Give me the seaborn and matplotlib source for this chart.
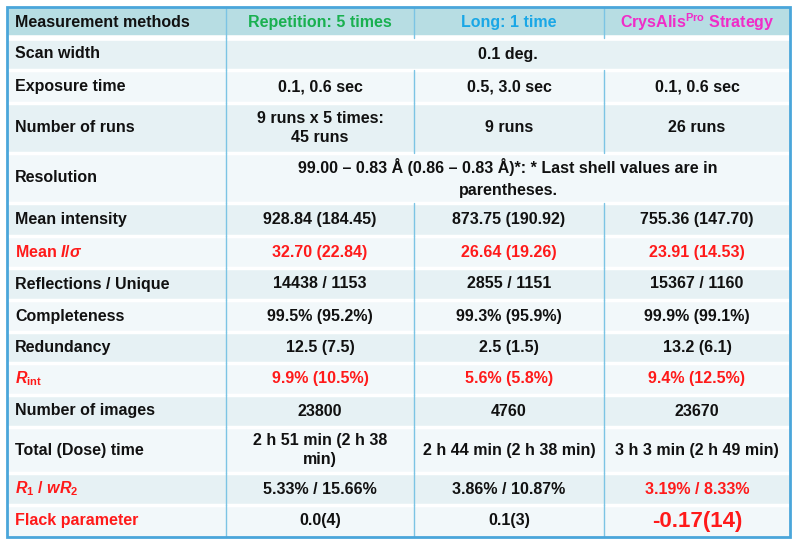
import matplotlib
matplotlib.use("Agg")
import matplotlib.pyplot as plt
import seaborn as sns
from matplotlib.patches import Rectangle

sns.set_theme(style="white")
plt.rcParams['font.family'] = ['Liberation Sans', 'DejaVu Sans']
plt.rcParams['mathtext.fontset'] = 'custom'
plt.rcParams['mathtext.rm'] = 'Liberation Sans:bold'
plt.rcParams['mathtext.it'] = 'Liberation Sans:bold:italic'
plt.rcParams['mathtext.bf'] = 'Liberation Sans:bold'

# table content
headers = ["Measurement methods", "Repetition: 5 times", "Long: 1 time",
           r"CrysAlis$^{\mathrm{Pro}}$ Strategy"]
header_colors = ["#111111", "#19b050", "#1aa7e6", "#f02cc8"]
row_labels = ["Scan width", "Exposure time", "Number of runs", "Resolution",
              "Mean intensity", r"Mean $I/\sigma$", "Reflections / Unique",
              "Completeness", "Redundancy", r"$R_{\mathrm{int}}$", "Number of images",
              "Total (Dose) time", r"$R_1$ / $wR_2$", "Flack parameter"]
repetition = ["0.1 deg.", "0.1, 0.6 sec", "9 runs x 5 times:\n45 runs",
              "99.00 – 0.83 Å (0.86 – 0.83 Å)*: * Last shell values are in\nparentheses.",
              "928.84 (184.45)", "32.70 (22.84)", "14438 / 1153", "99.5% (95.2%)",
              "12.5 (7.5)", "9.9% (10.5%)", "23800", "2 h 51 min (2 h 38\nmin)",
              "5.33% / 15.66%", "0.0(4)"]
long_time = [None, "0.5, 3.0 sec", "9 runs", None, "873.75 (190.92)", "26.64 (19.26)",
             "2855 / 1151", "99.3% (95.9%)", "2.5 (1.5)", "5.6% (5.8%)", "4760",
             "2 h 44 min (2 h 38 min)", "3.86% / 10.87%", "0.1(3)"]
strategy = [None, "0.1, 0.6 sec", "26 runs", None, "755.36 (147.70)", "23.91 (14.53)",
            "15367 / 1160", "99.9% (99.1%)", "13.2 (6.1)", "9.4% (12.5%)", "23670",
            "3 h 3 min (2 h 49 min)", "3.19% / 8.33%", "-0.17(14)"]
red_rows = {5, 9, 12, 13}      # rows with red label
red_value_rows = {5, 9}        # rows whose values are all red
merged_rows = {0, 3}

# layout (pixels)
col_x = [7, 226, 414, 604, 790]
row_y = [7, 38, 70, 103, 153, 203, 236, 268, 300, 332, 363, 395, 427, 473, 505, 537]
RED = "#ff1a1a"

fig = plt.figure(figsize=(8, 5.44), dpi=100)
ax = fig.add_axes([0, 0, 1, 1])
ax.set_xlim(0, 800)
ax.set_ylim(544, 0)
ax.axis("off")

ax.add_patch(Rectangle((col_x[0], row_y[0]), col_x[-1] - col_x[0], row_y[1] - row_y[0],
                       facecolor="#b7dde3", edgecolor="none"))
for i in range(len(row_labels)):
    y0, y1 = row_y[i + 1], row_y[i + 2]
    fc = "#e6f1f4" if i % 2 == 0 else "#f2f8fa"
    ax.add_patch(Rectangle((col_x[0], y0), col_x[-1] - col_x[0], y1 - y0,
                           facecolor=fc, edgecolor="none"))
    ax.plot([col_x[0], col_x[-1]], [y0, y0], color="white", lw=2.5)
ax.plot([col_x[0], col_x[-1]], [row_y[1], row_y[1]], color="white", lw=4)

# vertical separators
for j, x in enumerate(col_x[1:-1], start=1):
    for i in range(-1, len(row_labels)):
        if j > 1 and i in merged_rows:
            continue
        ax.plot([x, x], [row_y[i + 1], row_y[i + 2]], color="#7cc4e4", lw=1)
ax.add_patch(Rectangle((col_x[0], row_y[0]), col_x[-1] - col_x[0], row_y[-1] - row_y[0],
                       facecolor="none", edgecolor="#4aa6da", lw=2, zorder=5))

fs = 11.5
for j, h in enumerate(headers):
    cx = col_x[0] + 8 if j == 0 else (col_x[j] + col_x[j + 1]) / 2
    ax.text(cx, (row_y[0] + row_y[1]) / 2, h, ha="left" if j == 0 else "center",
            va="center", fontsize=fs, fontweight="bold", color=header_colors[j])

for i, lab in enumerate(row_labels):
    yc = (row_y[i + 1] + row_y[i + 2]) / 2
    ax.text(col_x[0] + 8, yc, lab, ha="left", va="center", fontsize=fs,
            fontweight="bold", color=RED if i in red_rows else "#111111")
    if i in merged_rows:
        ax.text((col_x[1] + col_x[-1]) / 2, yc, repetition[i], ha="center", va="center",
                fontsize=fs, fontweight="bold", color="#111111", linespacing=1.5)
        continue
    for j, vals in enumerate([repetition, long_time, strategy], start=1):
        color = "#111111"
        size = fs
        if i in red_value_rows or (i == 12 and j == 3):
            color = RED
        if i == 13 and j == 3:
            color, size = RED, 16
        ax.text((col_x[j] + col_x[j + 1]) / 2, yc, vals[i], ha="center", va="center",
                fontsize=size, fontweight="bold", color=color, linespacing=1.3)

fig.savefig("out.png", dpi=100)
